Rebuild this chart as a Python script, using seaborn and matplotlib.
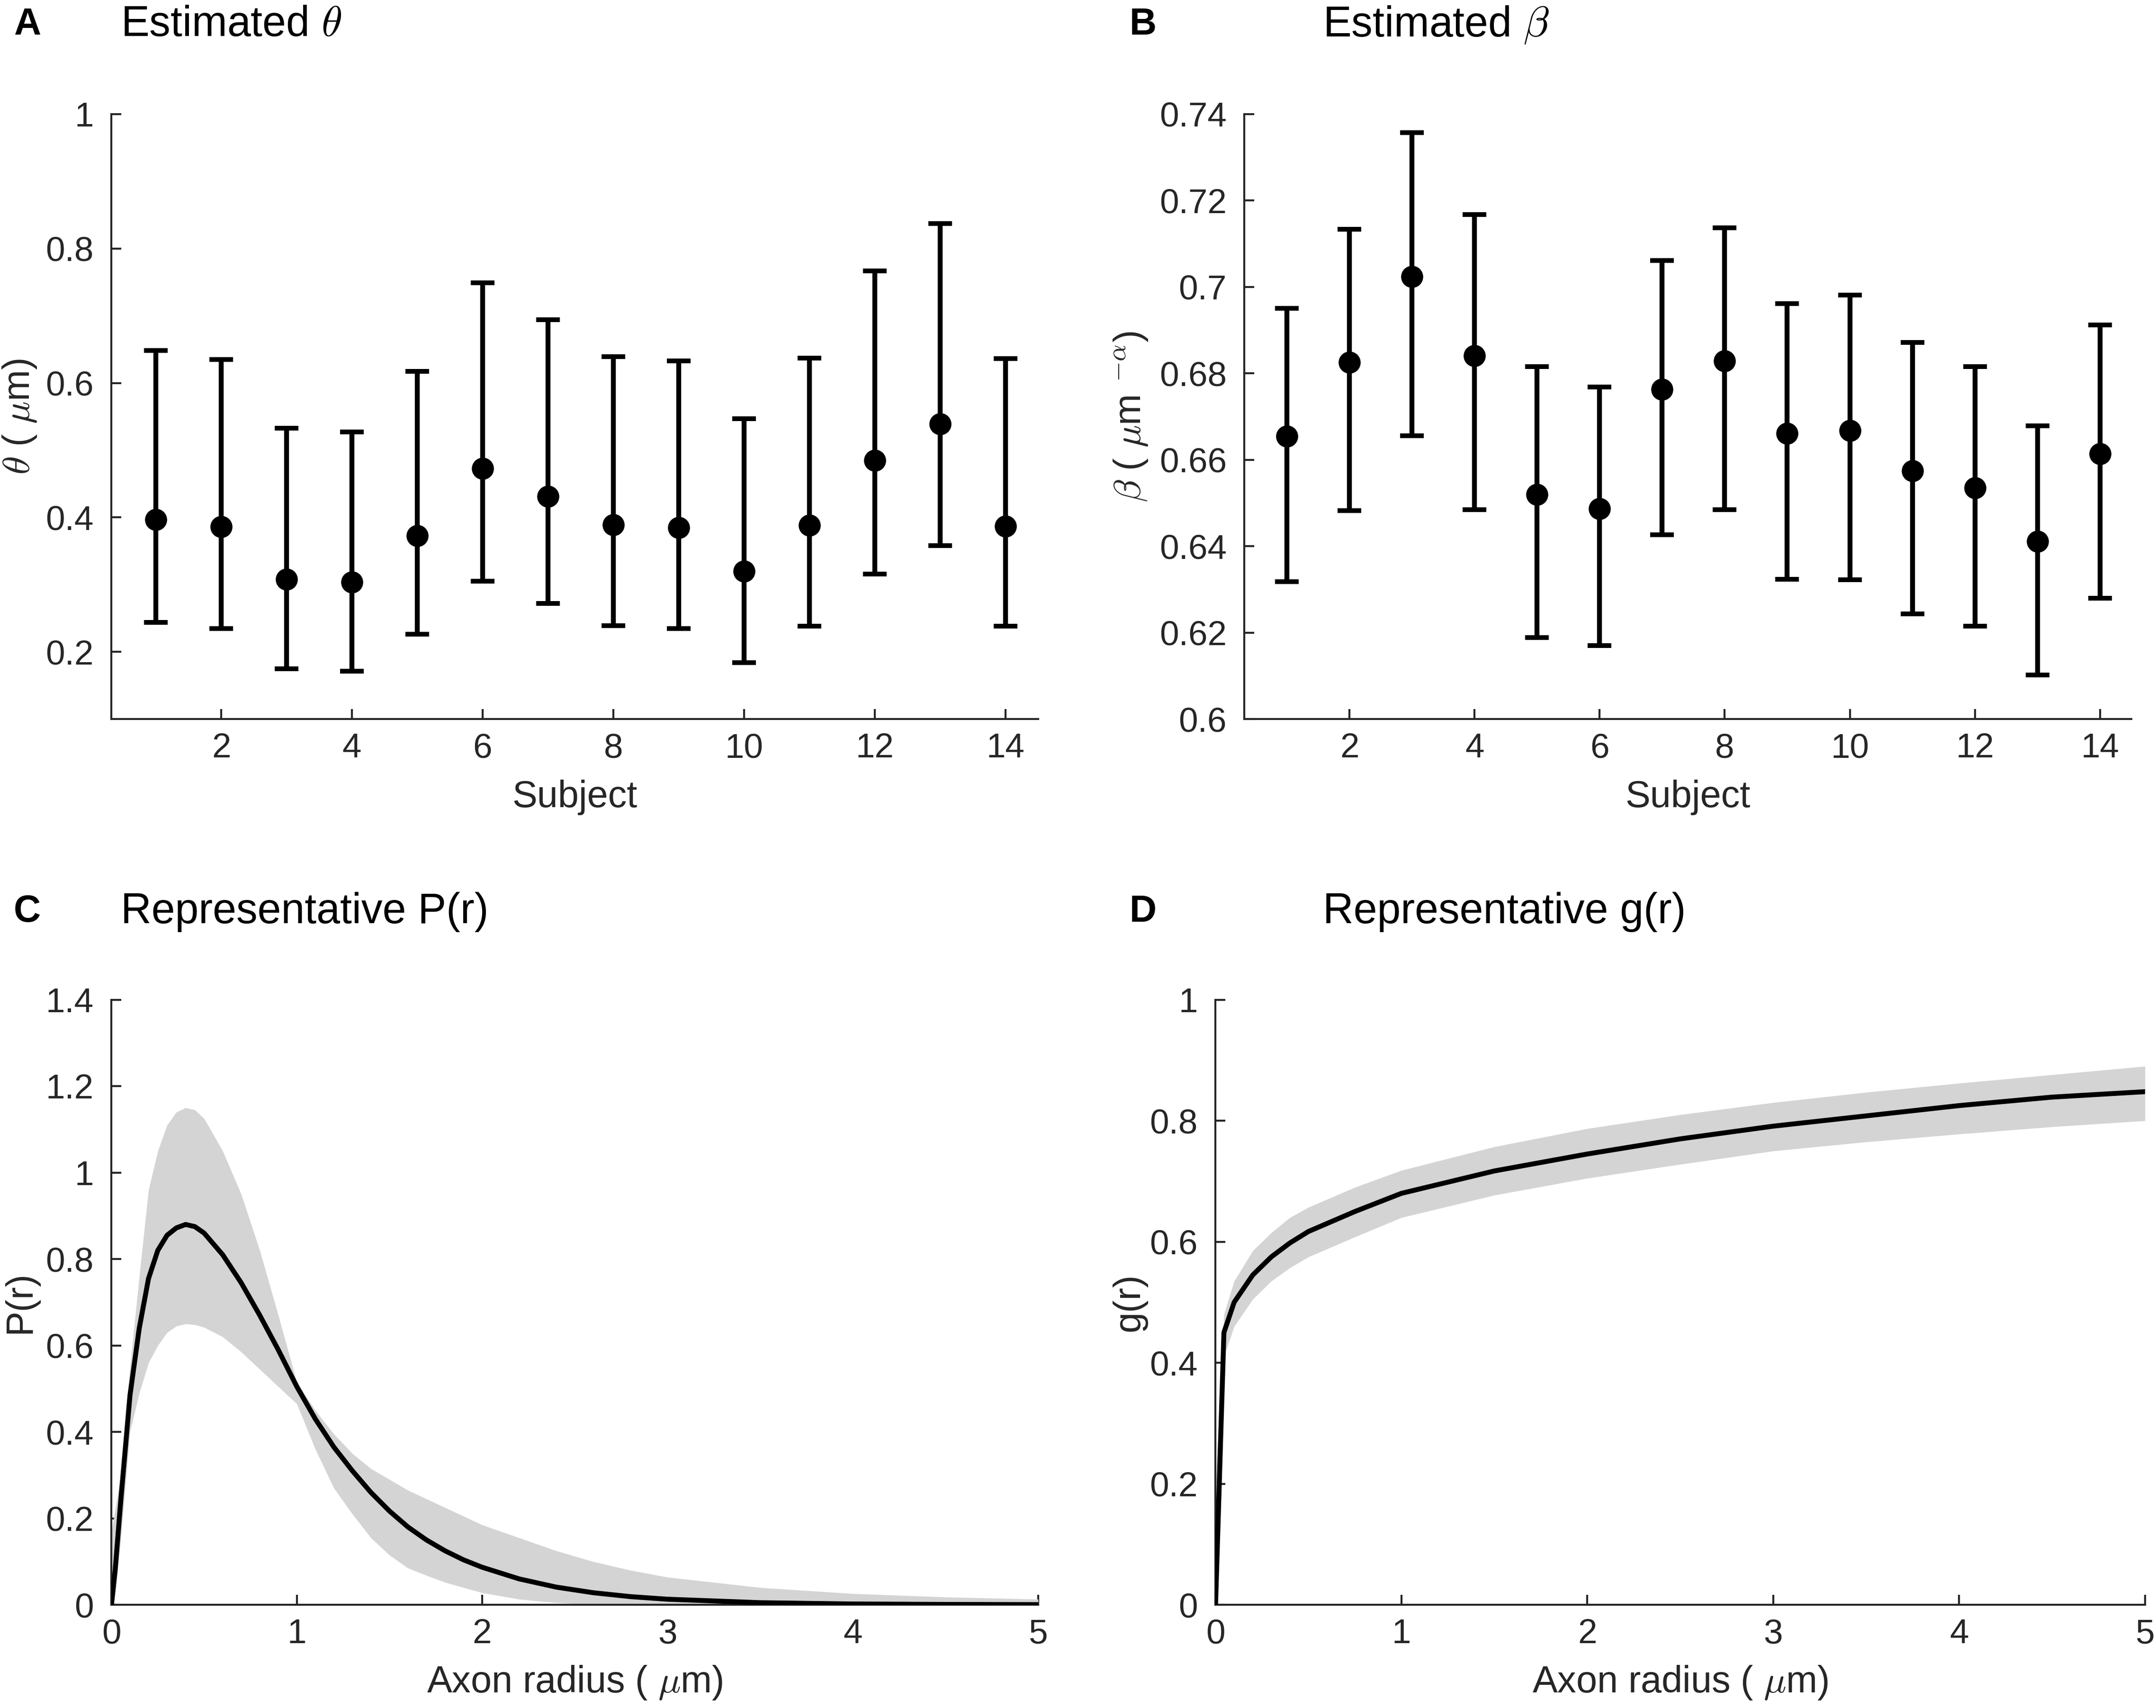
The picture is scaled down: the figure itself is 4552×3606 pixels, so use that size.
import numpy as np
import seaborn as sns
import matplotlib.pyplot as plt
from matplotlib.ticker import FuncFormatter

sns.set_theme(style="ticks")
plt.rcParams['font.family'] = ['Liberation Sans', 'DejaVu Sans']
plt.rcParams['mathtext.fontset'] = 'cm'

## Data
subjects = np.arange(1, 15)

theta_est = np.array([0.397, 0.386, 0.308, 0.304, 0.373, 0.473, 0.431, 0.389, 0.385, 0.320, 0.388, 0.485, 0.539, 0.387])
theta_hi = np.array([0.648, 0.635, 0.533, 0.527, 0.617, 0.749, 0.694, 0.639, 0.633, 0.547, 0.637, 0.767, 0.837, 0.636])
theta_lo = np.array([0.244, 0.235, 0.175, 0.171, 0.226, 0.305, 0.272, 0.239, 0.235, 0.184, 0.238, 0.316, 0.358, 0.238])

beta_est = np.array([0.6654, 0.6826, 0.7024, 0.6841, 0.6520, 0.6487, 0.6763, 0.6829, 0.6661, 0.6668, 0.6575, 0.6535, 0.6411, 0.6614])
beta_hi = np.array([0.6951, 0.7134, 0.7357, 0.7167, 0.6816, 0.6769, 0.7061, 0.7137, 0.6961, 0.6981, 0.6872, 0.6816, 0.6679, 0.6912])
beta_lo = np.array([0.6318, 0.6482, 0.6656, 0.6485, 0.6189, 0.6170, 0.6427, 0.6485, 0.6324, 0.6322, 0.6244, 0.6215, 0.6102, 0.6280])

r_p = [0, 0.02, 0.05, 0.1, 0.15, 0.2, 0.25, 0.3, 0.35, 0.4, 0.45, 0.5, 0.6, 0.7, 0.8, 0.9,
       1.0, 1.1, 1.2, 1.3, 1.4, 1.5, 1.6, 1.7, 1.8, 1.9, 2.0, 2.2, 2.4, 2.6, 2.8, 3.0, 3.5, 4.0, 4.5, 5.0]
p_mean = [0, 0.08, 0.24, 0.485, 0.64, 0.755, 0.82, 0.855, 0.872, 0.88, 0.875, 0.86, 0.81, 0.745, 0.67, 0.59,
          0.505, 0.43, 0.365, 0.31, 0.26, 0.217, 0.18, 0.15, 0.125, 0.104, 0.087, 0.06, 0.041, 0.028, 0.019, 0.013, 0.005, 0.002, 0.001, 0.0005]
p_upper = [0.17, 0.22, 0.30, 0.55, 0.76, 0.96, 1.05, 1.11, 1.14, 1.15, 1.145, 1.125, 1.05, 0.95, 0.82, 0.67,
           0.515, 0.45, 0.395, 0.35, 0.315, 0.29, 0.265, 0.245, 0.225, 0.205, 0.185, 0.155, 0.125, 0.10, 0.08, 0.064, 0.04, 0.026, 0.018, 0.013]
p_lower = [0, 0.03, 0.15, 0.40, 0.49, 0.56, 0.60, 0.63, 0.645, 0.65, 0.648, 0.642, 0.62, 0.585, 0.545, 0.505,
           0.465, 0.36, 0.27, 0.21, 0.155, 0.115, 0.085, 0.068, 0.052, 0.04, 0.028, 0.013, 0.005, 0.001, 0, 0, 0, 0, 0, 0]

r_g = [0, 0.045, 0.1, 0.2, 0.3, 0.4, 0.5, 0.75, 1.0, 1.5, 2.0, 2.5, 3.0, 3.5, 4.0, 4.5, 5.0]
g_mean = [0, 0.45, 0.50, 0.545, 0.575, 0.598, 0.617, 0.65, 0.68, 0.717, 0.745, 0.77, 0.791, 0.808, 0.825, 0.839, 0.848]
g_upper = [0.2, 0.48, 0.535, 0.585, 0.615, 0.64, 0.657, 0.69, 0.718, 0.757, 0.787, 0.81, 0.83, 0.847, 0.862, 0.876, 0.89]
g_lower = [0, 0.41, 0.46, 0.505, 0.535, 0.557, 0.575, 0.608, 0.64, 0.677, 0.705, 0.728, 0.75, 0.765, 0.778, 0.79, 0.80]

#------------------------------------------ Figure ------------------------------------------#
txt = '#262626'
fig = plt.figure(figsize=(4552 / 300, 3606 / 300), dpi=300)

axA = fig.add_axes([0.0517, 0.5790, 0.4298, 0.3542])
axB = fig.add_axes([0.5772, 0.5790, 0.4113, 0.3542])
axC = fig.add_axes([0.0517, 0.0604, 0.4298, 0.3543])
axD = fig.add_axes([0.5638, 0.0604, 0.4311, 0.3543])

fmt = FuncFormatter(lambda v, pos: '%g' % round(v, 4))


def style_axis(ax):
    sns.despine(ax=ax)
    for s in ['left', 'bottom']:
        ax.spines[s].set_linewidth(1.0)
        ax.spines[s].set_color(txt)
    ax.tick_params(direction='in', length=5, width=1, colors=txt, labelsize=17.5)
    ax.tick_params(axis='x', pad=7)
    ax.tick_params(axis='y', pad=9)
    ax.xaxis.set_major_formatter(fmt)
    ax.yaxis.set_major_formatter(fmt)
    ax.set_facecolor('white')


## Panel A / B: estimates with error bars
for ax, est, lo, hi in [(axA, theta_est, theta_lo, theta_hi), (axB, beta_est, beta_lo, beta_hi)]:
    ax.errorbar(subjects, est, yerr=[est - lo, hi - est], fmt='none', ecolor='black',
                elinewidth=2.5, capsize=6, capthick=2.4, zorder=2)
    sns.scatterplot(x=subjects, y=est, ax=ax, color='black', s=125, edgecolor='black', linewidth=0, zorder=3)
    ax.set_xlim(0.32, 14.5)
    ax.set_xticks(np.arange(2, 15, 2))
    style_axis(ax)
    ax.set_xlabel('Subject', fontsize=19, color=txt)
    ax.xaxis.set_label_coords(0.5, -0.100)

axA.set_ylim(0.1, 1.0)
axA.set_yticks([0.2, 0.4, 0.6, 0.8, 1.0])
axA.set_ylabel(r'$\theta$ ( $\mu$m)', fontsize=19, color=txt)
axA.yaxis.set_label_coords(-0.079, 0.5)

axB.set_ylim(0.6, 0.74)
axB.set_yticks([0.6, 0.62, 0.64, 0.66, 0.68, 0.7, 0.72, 0.74])
axB.set_ylabel(r'$\beta$ ( $\mu$m $^{-\alpha}$)', fontsize=19, color=txt)
axB.yaxis.set_label_coords(-0.107, 0.5)

## Panel C / D: representative curves with shaded range
band = '#d4d4d4'
axC.fill_between(r_p, p_lower, p_upper, color=band, linewidth=0, zorder=1)
sns.lineplot(x=r_p, y=p_mean, ax=axC, color='black', linewidth=2.5, zorder=3)
axC.set_xlim(0, 5)
axC.set_ylim(0, 1.4)
axC.set_yticks([0, 0.2, 0.4, 0.6, 0.8, 1.0, 1.2, 1.4])
style_axis(axC)
axC.set_ylabel('P(r)', fontsize=19, color=txt)
axC.yaxis.set_label_coords(-0.079, 0.5)

axD.fill_between(r_g, g_lower, g_upper, color=band, linewidth=0, zorder=1)
sns.lineplot(x=r_g, y=g_mean, ax=axD, color='black', linewidth=2.5, zorder=3)
axD.set_xlim(0, 5)
axD.set_ylim(0, 1.0)
axD.set_yticks([0, 0.2, 0.4, 0.6, 0.8, 1.0])
style_axis(axD)
axD.set_ylabel('g(r)', fontsize=19, color=txt)
axD.yaxis.set_label_coords(-0.074, 0.5)

for ax in [axC, axD]:
    ax.set_xticks([0, 1, 2, 3, 4, 5])
    ax.set_xlabel(r'Axon radius ( $\mu$m)', fontsize=19, color=txt)
    ax.xaxis.set_label_coords(0.5, -0.098)

## Panel letters and titles
for letter, x, y in [('A', 0.0064, 0.9855), ('B', 0.524, 0.9855), ('C', 0.0064, 0.466), ('D', 0.524, 0.466)]:
    fig.text(x, y, letter, fontsize=19, fontweight='bold', color='black', ha='left', va='center')

titles = [(r'Estimated $\theta$', 0.0561, 0.9855), (r'Estimated $\beta$', 0.6135, 0.9855),
          ('Representative P(r)', 0.0561, 0.466), ('Representative g(r)', 0.6135, 0.466)]
for t, x, y in titles:
    fig.text(x, y, t, fontsize=21.5, color='black', ha='left', va='center')

plt.savefig('out.png', dpi=300, facecolor='white')
plt.close()
